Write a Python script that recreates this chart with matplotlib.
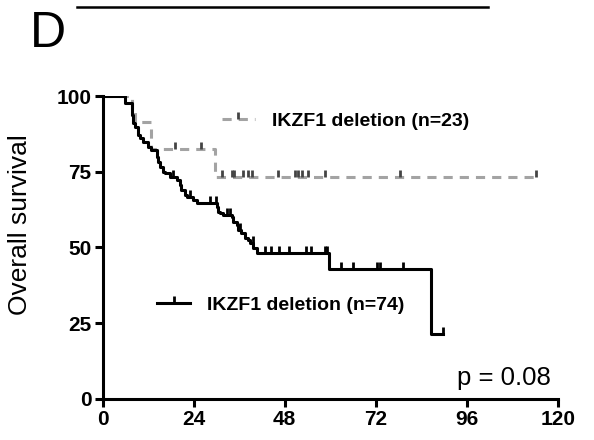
import numpy as np
import matplotlib
matplotlib.use("Agg")
import matplotlib.pyplot as plt
from matplotlib.lines import Line2D

plt.rcParams['font.family'] = ['Liberation Sans', 'DejaVu Sans']

# curva IKZF1 deletion (n=74): tempo dell'evento e sopravvivenza dopo l'evento
t74 = [0, 6.0, 7.7, 8.1, 8.6, 9.4, 9.9, 10.7, 12.1, 12.9, 14.3, 14.7, 15.1, 16.0,
       16.4, 17.8, 19.5, 20.4, 20.8, 21.7, 22.2, 23.9, 24.8, 30.1, 30.5, 30.9,
       31.8, 34.0, 34.4, 35.3, 35.7, 36.6, 37.5, 38.4, 38.8, 39.7, 40.6, 59.7,
       86.6, 89.7]
s74 = [100, 97.6, 93.7, 91.0, 89.9, 87.1, 86.0, 84.9, 83.3, 82.2, 80.0, 78.3,
       76.7, 75.0, 74.5, 73.4, 72.3, 70.6, 69.0, 67.3, 66.8, 65.7, 64.6, 63.5,
       61.8, 61.3, 60.7, 60.2, 58.5, 57.4, 55.8, 54.7, 53.0, 52.5, 51.4, 49.7,
       48.1, 42.9, 21.5, 21.5]
cens74 = [18.6, 23.0, 28.3, 30.0, 32.7, 33.6, 36.2, 39.6, 42.8, 44.5, 46.4,
          49.1, 53.7, 54.8, 58.6, 59.2, 62.9, 66.0, 72.4, 73.0, 79.2, 89.7]

# curva IKZF1 deletion (n=23)
t23 = [0, 7.7, 8.6, 12.9, 29.6, 114.3]
s23 = [100, 95.7, 91.3, 82.6, 73.4, 73.4]
cens23 = [19.0, 26.0, 31.4, 34.0, 34.7, 37.1, 38.4, 39.3, 46.3, 50.7, 51.6,
          52.5, 54.2, 58.6, 78.3, 114.3]

label23 = "IKZF1 deletion (n=23)"
label74 = "IKZF1 deletion (n=74)"
xticks = [0, 24, 48, 72, 96, 120]
yticks = [0, 25, 50, 75, 100]


def level_at(t, s, x):
    idx = np.searchsorted(t, x, side='right') - 1
    return np.array(s)[idx]


fig = plt.figure(figsize=(5.94, 4.4), dpi=100)
ax = fig.add_axes([0.1726, 0.0932, 0.7668, 0.6886])

gray = '#a3a3a3'
ax.step(t23, s23, where='post', color=gray, lw=2.2, dashes=[3, 2.3], zorder=2)
ax.plot(cens23, level_at(t23, s23, cens23), ls='none', marker=2, ms=5,
        mew=2, color='#444444', zorder=3)

ax.step(t74, s74, where='post', color='black', lw=2.2, zorder=4)
ax.plot(cens74, level_at(t74, s74, cens74), ls='none', marker=2, ms=5,
        mew=2, color='black', zorder=5)

ax.set_xlim(0, 120)
ax.set_ylim(0, 100)
ax.set_xticks(xticks)
ax.set_yticks(yticks)
ax.spines['top'].set_visible(False)
ax.spines['right'].set_visible(False)
for sp in ['left', 'bottom']:
    ax.spines[sp].set_linewidth(2.2)
ax.tick_params(direction='out', length=6, width=2.2, labelsize=15, pad=2)
for lab in ax.get_xticklabels() + ax.get_yticklabels():
    lab.set_fontweight('bold')

ax.set_ylabel("Overall survival", fontsize=19)
ax.yaxis.set_label_coords(-0.155, 0.574)

ax.text(118, 4.6, "p = 0.08", fontsize=18.5, ha='right', va='baseline')

# legende
h23 = Line2D([], [], color=gray, lw=2.2, dashes=[3, 2.3], marker=2, ms=5,
             mew=2, mec='#444444')
leg1 = ax.legend([h23], [label23], loc='center left',
                 bbox_to_anchor=(0.262, 0.917), frameon=False, borderpad=0,
                 borderaxespad=0, handlelength=1.7, handletextpad=0.88,
                 numpoints=1, prop={'size': 14, 'weight': 'bold'})
ax.add_artist(leg1)
h74 = Line2D([], [], color='black', lw=2.2, marker=2, ms=5, mew=2)
ax.legend([h74], [label74], loc='center left',
          bbox_to_anchor=(0.1196, 0.310), frameon=False, borderpad=0,
          borderaxespad=0, handlelength=1.7, handletextpad=0.88,
          numpoints=1, prop={'size': 14, 'weight': 'bold'})

# pannello D e linea in alto
fig.text(0.05, 0.893, "D", fontsize=36, va='baseline')
fig.add_artist(Line2D([0.1296, 0.8215], [0.984, 0.984], color='black', lw=1.8))

fig.savefig("out.png", dpi=100)
